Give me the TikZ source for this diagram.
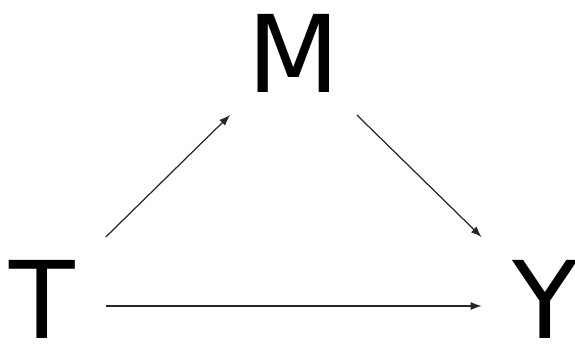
\documentclass[tikz,border=0pt]{standalone}
\usepackage{fontspec}
\setmainfont{DejaVu Sans}
\usepackage{tikz}
\usetikzlibrary{arrows.meta}

\begin{document}
\begin{tikzpicture}[var/.style={minimum width=2.52cm, minimum height=2.52cm, inner sep=0pt, text height=1.6cm, text depth=0pt, font=\fontsize{61}{61}\selectfont},
	edge/.style={-{Latex[length=2.2mm, width=1.6mm]}, line width=0.7pt, black!85}]
	\useasboundingbox (0,0) rectangle (11.5,6.94);
	% variablen
	\node[var] (M) at (5.87,5.88) {M};
	\node[var] (T) at (0.85,0.96) {T};
	\node[var] (Y) at (10.9,0.96) {Y};
	% pfeile
	\draw[edge] (T) -- (M);
	\draw[edge] (M) -- (Y);
	\draw[edge] ([yshift=-0.14cm]T.east) -- ([yshift=-0.14cm]Y.west);
\end{tikzpicture}
\end{document}
